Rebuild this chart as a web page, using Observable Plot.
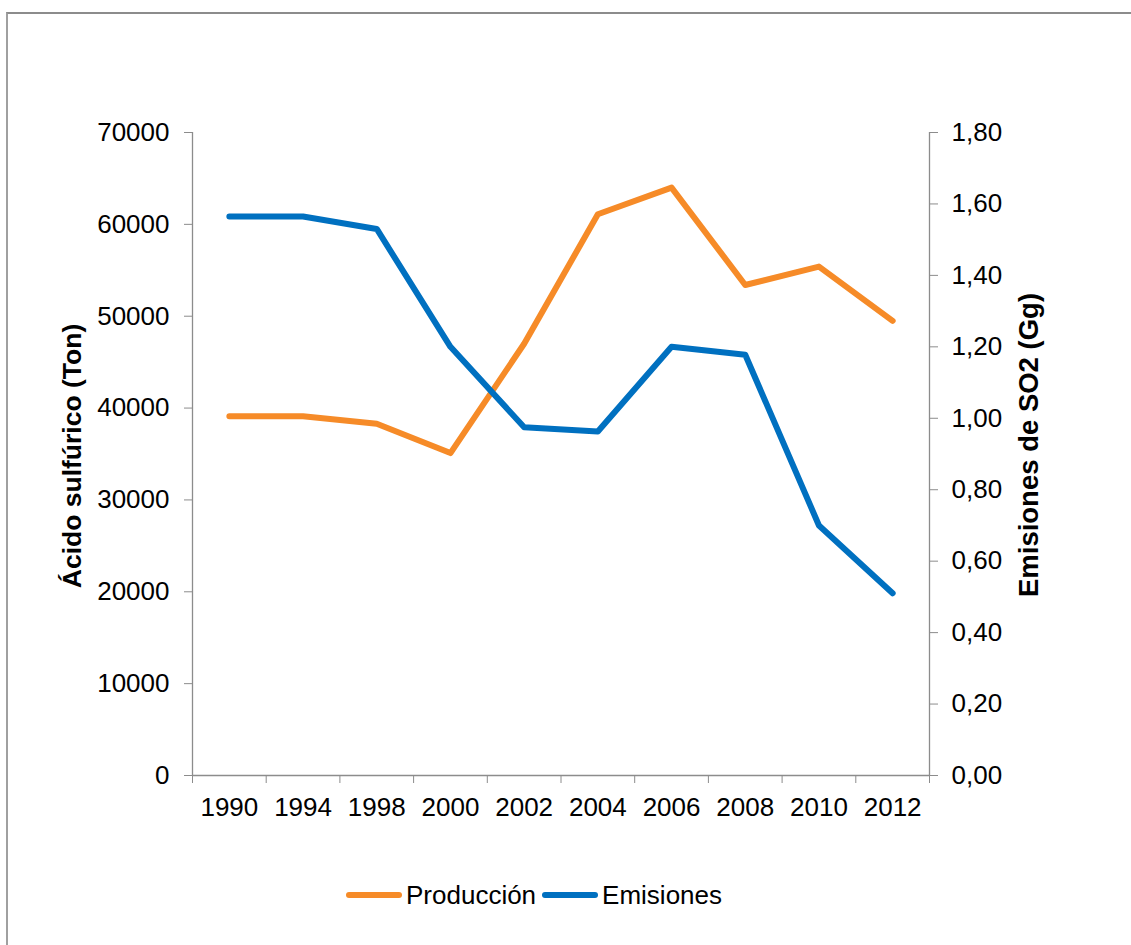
<!DOCTYPE html>
<html><head><meta charset="utf-8">
<script src="https://cdn.jsdelivr.net/npm/d3@7"></script>
<script src="https://cdn.jsdelivr.net/npm/@observablehq/plot@0.6"></script>
<style>
html,body{margin:0;padding:0;background:#fff;overflow:hidden;width:1131px;height:945px;font-family:"Liberation Sans",Arial,sans-serif;}
#frame{position:absolute;left:6px;top:12px;width:1300px;height:1100px;border-top:2px solid #8c8c8c;border-left:2px solid #a0a0a0;box-sizing:border-box;}
#chart{position:absolute;left:0;top:0;}
#legend{position:absolute;left:346px;top:879px;height:32px;display:flex;align-items:center;font-size:26px;color:#000;white-space:nowrap;}
.sw{display:inline-block;width:56px;height:6px;border-radius:3px;margin-right:4px;}
.item{display:flex;align-items:center;margin-right:6px;}
</style>
</head><body>
<div id="frame"></div>
<div id="chart"></div>
<div id="legend"></div>
<script>
const years = ["1990","1994","1998","2000","2002","2004","2006","2008","2010","2012"];
const produccion = [39100,39100,38300,35100,47000,61100,64000,53400,55400,49500];
const emisiones = [1.565,1.565,1.530,1.200,0.975,0.963,1.200,1.178,0.700,0.510];
const leftTicks = [0,10000,20000,30000,40000,50000,60000,70000];
const rightTicks = [0,0.2,0.4,0.6,0.8,1.0,1.2,1.4,1.6,1.8];
const seriesNames = ["Producción","Emisiones"];
const colors = ["#F68B28","#0070C0"];
const leftTitle = "Ácido sulfúrico (Ton)";
const rightTitle = "Emisiones de SO2 (Gg)";

const leftMax = 70000, rightMax = 1.8;
const k = leftMax / rightMax;
const rows = years.map((y, i) => ({year: y, idx: i + 0.5, prod: produccion[i], emis: emisiones[i] * k}));
const axisGray = "#8c8c8c";

const chart = Plot.plot({
  width: 1131,
  height: 860,
  marginLeft: 192,
  marginRight: 202,
  marginTop: 132,
  marginBottom: 85,
  x: {type: "linear", domain: [0, years.length], axis: null},
  y: {domain: [0, leftMax], axis: null},
  style: {fontFamily: "'Liberation Sans', Arial, sans-serif", fontSize: "26px", color: "#000", background: "transparent"},
  marks: [
    Plot.ruleX([0, years.length], {stroke: axisGray, strokeWidth: 1.3}),
    Plot.ruleY([0], {stroke: axisGray, strokeWidth: 1.3}),
    Plot.axisY(leftTicks, {anchor: "left", tickSize: 8, tickPadding: 15, stroke: axisGray, fill: "#000", fontSize: 26, tickFormat: d => String(d), label: null}),
    Plot.axisY(rightTicks.map(v => v * k), {anchor: "right", tickSize: 8, tickPadding: 14, stroke: axisGray, fill: "#000", fontSize: 26, tickFormat: v => (v / k).toFixed(2).replace(".", ","), label: null}),
    Plot.axisX(d3.range(years.length + 1), {anchor: "bottom", tickSize: 8, stroke: axisGray, tickFormat: () => "", label: null}),
    Plot.axisX(rows.map(r => r.idx), {anchor: "bottom", tickSize: 0, tickPadding: 22, fill: "#000", fontSize: 26, tickFormat: v => years[Math.floor(v)], label: null}),
    Plot.text([leftTitle], {frameAnchor: "left", textAnchor: "middle", dx: -120, dy: 2, rotate: -90, fontWeight: "bold", fontSize: 26.5, fill: "#000"}),
    Plot.text([rightTitle], {frameAnchor: "right", textAnchor: "middle", dx: 100, dy: -9, rotate: -90, fontWeight: "bold", fontSize: 27.5, fill: "#000"}),
    Plot.line(rows, {x: "idx", y: "prod", stroke: colors[0], strokeWidth: 6, strokeLinejoin: "round", strokeLinecap: "round"}),
    Plot.line(rows, {x: "idx", y: "emis", stroke: colors[1], strokeWidth: 6, strokeLinejoin: "round", strokeLinecap: "round"})
  ]
});
document.getElementById("chart").appendChild(chart);

const legend = document.getElementById("legend");
seriesNames.forEach((name, i) => {
  const item = document.createElement("div");
  item.className = "item";
  const sw = document.createElement("span");
  sw.className = "sw";
  sw.style.background = colors[i];
  const t = document.createElement("span");
  t.textContent = name;
  item.appendChild(sw);
  item.appendChild(t);
  legend.appendChild(item);
});
</script>
</body></html>
